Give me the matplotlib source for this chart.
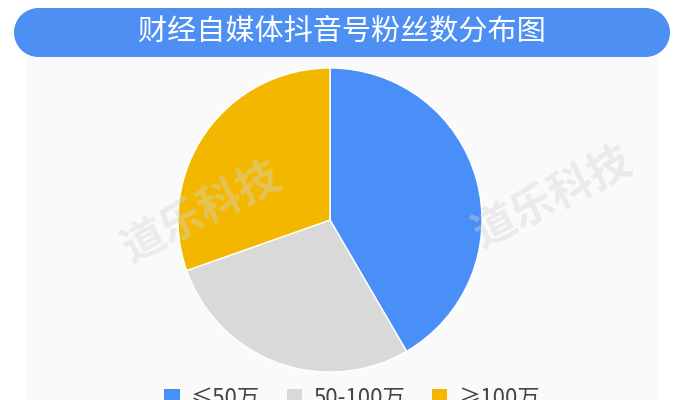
import matplotlib
matplotlib.use("Agg")
import matplotlib.pyplot as plt
from matplotlib.patches import Rectangle, Circle, Patch

plt.rcParams['font.family'] = ['Noto Sans CJK SC', 'DejaVu Sans']

title = "财经自媒体抖音号粉丝数分布图"
labels = ["≤50万", "50-100万", "≥100万"]
shares = [41.6, 28.0, 30.4]
colors = ["#4a8ff7", "#d9d9d9", "#f3b700"]
watermark = "道乐科技"

W, H = 684, 400
fig = plt.figure(figsize=(W / 100, H / 100), dpi=100)
fig.patch.set_facecolor("white")

# background layer in pixel coords
bg = fig.add_axes([0, 0, 1, 1])
bg.set_xlim(0, W)
bg.set_ylim(H, 0)
bg.axis("off")
bg.add_patch(Rectangle((25, 50), 634, 360, facecolor="#fafafa", edgecolor="none"))
banner = "#4d8ff2"
rad = 24.5
bg.add_patch(Rectangle((14 + rad, 8), 656 - 2 * rad, 2 * rad, facecolor=banner, edgecolor="none"))
bg.add_patch(Circle((14 + rad, 8 + rad), rad, facecolor=banner, edgecolor="none"))
bg.add_patch(Circle((670 - rad, 8 + rad), rad, facecolor=banner, edgecolor="none"))
bg.text(W / 2, 33, title, color="white", fontsize=21, ha="center", va="center")

# pie
cx, cy, r = 330, 220, 152
ax = fig.add_axes([(cx - r) / W, (H - cy - r) / H, 2 * r / W, 2 * r / H])
ax.pie(shares, colors=colors, startangle=90, counterclock=False,
       wedgeprops=dict(edgecolor="white", linewidth=1))
ax.set_xlim(-1, 1)
ax.set_ylim(-1, 1)
ax.axis("off")

# watermarks on top
top = fig.add_axes([0, 0, 1, 1])
top.set_xlim(0, W)
top.set_ylim(H, 0)
top.axis("off")
for x, y in [(202, 212), (553, 197)]:
    top.text(x, y, watermark, fontsize=31, fontweight="bold", color="#d4d4d4",
             alpha=0.4, rotation=27, ha="center", va="center")

handles = [Patch(facecolor=c, edgecolor="none") for c in colors]
fig.legend(handles, labels, loc="center", bbox_to_anchor=(0.515, 0.005),
           ncol=3, frameon=False, fontsize=16, handlelength=0.7, handleheight=0.7,
           handletextpad=0.5, columnspacing=1.2, labelcolor="#444444")

fig.savefig("out.png", dpi=100, facecolor=fig.get_facecolor())
